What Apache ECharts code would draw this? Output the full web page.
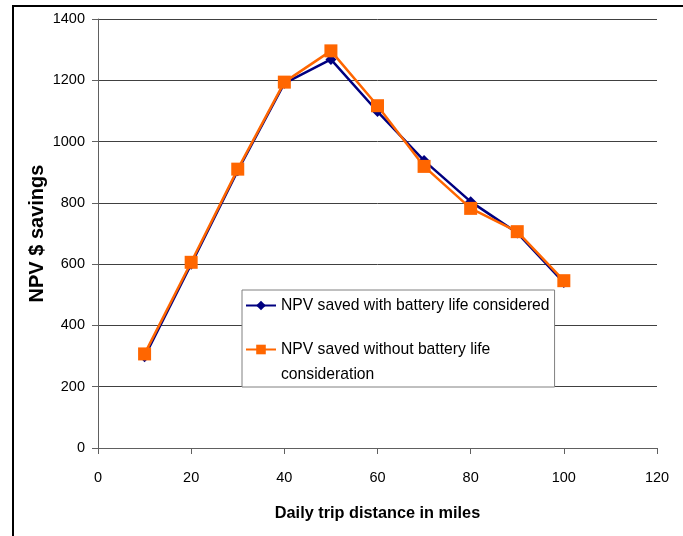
<!DOCTYPE html>
<html>
<head>
<meta charset="utf-8">
<script src="https://cdn.jsdelivr.net/npm/echarts@6/dist/echarts.min.js"></script>
<style>
  html, body { margin: 0; padding: 0; background: #fff; }
  #chart { width: 683px; height: 536px; }
</style>
</head>
<body>
<div id="chart"></div>
<script>
// miles per day
const distances = [10, 20, 30, 40, 50, 60, 70, 80, 90, 100];
// NPV $ savings
const withBattery = [298, 600, 905, 1190, 1268, 1098, 938, 804, 702, 540];
const withoutBattery = [307, 606, 910, 1194, 1296, 1117, 919, 782, 706, 546];

const nameWith = 'NPV saved with battery life considered';
const nameWithout = 'NPV saved without battery life consideration';

const font = '"Liberation Sans", Arial, sans-serif';

const chart = echarts.init(document.getElementById('chart'));

const option = {
  backgroundColor: '#ffffff',
  animation: false,
  textStyle: { fontFamily: font },
  graphic: [
    {
      type: 'polyline',
      shape: { points: [[13, 536], [13, 6], [683, 6]] },
      style: { stroke: '#000', lineWidth: 2, fill: null }
    }
  ],
  grid: { left: 98, right: 26, top: 19, bottom: 88 },
  legend: {
    orient: 'vertical',
    left: 242,
    top: 290,
    padding: [3, 5, 0, 3],
    itemGap: -6,
    itemWidth: 30,
    itemHeight: 12,
    backgroundColor: '#fff',
    borderColor: '#808080',
    borderWidth: 1,
    borderRadius: 0,
    textStyle: { fontSize: 15.7, color: '#000', lineHeight: 25 },
    // blank first line keeps the icon level with the first text line
    formatter: name => name === nameWithout ? '\nNPV saved without battery life\nconsideration' : name,
    data: [nameWith, nameWithout]
  },
  xAxis: {
    type: 'value',
    min: 0,
    max: 120,
    interval: 20,
    name: 'Daily trip distance in miles',
    nameLocation: 'middle',
    nameGap: 58,
    nameTextStyle: { fontSize: 16.3, fontWeight: 'bold', color: '#000' },
    axisLine: { lineStyle: { color: '#606060', width: 1 } },
    axisTick: { show: true, length: 6, lineStyle: { color: '#606060' } },
    axisLabel: { fontSize: 14.5, color: '#000', margin: 22 },
    splitLine: { show: false }
  },
  yAxis: {
    type: 'value',
    min: 0,
    max: 1400,
    interval: 200,
    name: 'NPV $ savings',
    nameLocation: 'middle',
    nameGap: 51,
    nameMoveOverlap: false,
    nameTextStyle: { fontSize: 20, fontWeight: 'bold', color: '#000' },
    axisLine: { show: true, lineStyle: { color: '#606060', width: 1 } },
    axisTick: { show: true, length: 6, lineStyle: { color: '#606060' } },
    axisLabel: { fontSize: 14.5, color: '#000', margin: 13, formatter: v => String(v) },
    splitLine: { show: true, lineStyle: { color: '#404040', width: 1 } }
  },
  series: [
    {
      name: nameWith,
      type: 'line',
      data: distances.map((d, i) => [d, withBattery[i]]),
      symbol: 'diamond',
      symbolSize: 11,
      color: '#000080',
      lineStyle: { width: 2.5, color: '#000080' },
      itemStyle: { color: '#000080' },
      z: 2
    },
    {
      name: nameWithout,
      type: 'line',
      data: distances.map((d, i) => [d, withoutBattery[i]]),
      symbol: 'rect',
      symbolSize: 13,
      color: '#ff6600',
      lineStyle: { width: 2.5, color: '#ff6600' },
      itemStyle: { color: '#ff6600' },
      z: 3
    }
  ]
};

chart.setOption(option);
</script>
</body>
</html>
